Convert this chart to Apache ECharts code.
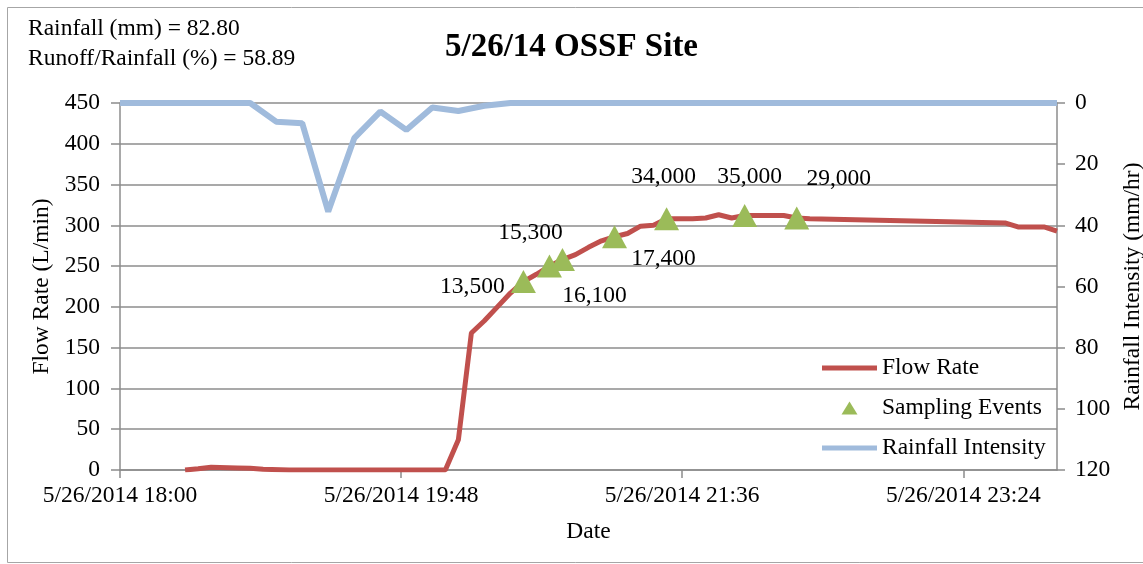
<!DOCTYPE html>
<html>
<head>
<meta charset="utf-8">
<script src="https://cdn.jsdelivr.net/npm/echarts@6/dist/echarts.min.js"></script>
<style>
  html, body { margin: 0; padding: 0; background: #fff; }
  #main { width: 1143px; height: 564px; }
</style>
</head>
<body>
<div id="main"></div>
<script>
// flow rate (L/min)
const flowTimes = ['18:25','18:30','18:35','18:45','18:50','18:55','19:05','20:05','20:10','20:15','20:20','20:25','20:30','20:35','20:40','20:45','20:50','20:55','21:00','21:05','21:10','21:15','21:20','21:25','21:30','21:40','21:45','21:50','21:55','22:00','22:15','22:20','22:25','23:40','23:45','23:55','24:00'];
const flowValues = [0,1.5,3.3,2.5,2,1,0,0,37,168,183,200,217,231,240,250,258,264,273,281,286,290,299,300,308,308,309,313,309,312,312,309,308,303,298,298,293];

// rainfall intensity (mm/hr), right axis, inverted
const rainTimes = ['18:00','18:50','19:00','19:10','19:20','19:30','19:40','19:50','20:00','20:10','20:20','20:30','24:00'];
const rainValues = [0,0,6.1,6.6,35.5,11.5,2.8,8.8,1.5,2.6,0.9,0,0];

// sampling events, sit on the flow line
const sampleTimes = ['20:35','20:45','20:50','21:10','21:30','22:00','22:20'];
const sampleValues = [231,250,258,286,308,312,309];
const sampleLabels = ['13,500','15,300','16,100','17,400','34,000','35,000','29,000'];
// label offsets from marker centre (px)
const labelOffsets = [[-51,5],[-19,-33],[32,36],[49,22],[-3,-42],[5,-39],[42,-39]];

const xTickLabels = ['5/26/2014 18:00','5/26/2014 19:48','5/26/2014 21:36','5/26/2014 23:24'];

const serif = 'Liberation Serif';
const fs = 23.5;
const gridGray = '#8c8c8c';
const red = '#c0504d';
const blue = '#a0bbdc';
const green = '#9bbb59';

// legend icons: thin bar for the lines, small triangle for the samples
const barIcon = 'path://M0,0 L55,0 L55,5 L0,5 Z';
const triIcon = 'path://M8,0 L16,13 L0,13 Z';

// minutes since 18:00
function toMin(t){
    let p = t.split(':');
    return (parseInt(p[0]) - 18) * 60 + parseInt(p[1]);
}

let option = {
    animation: false,
    textStyle: { fontFamily: serif, color: '#000' },
    title: {
        text: '5/26/14 OSSF Site',
        left: 'center',
        top: 26,
        textStyle: { fontFamily: serif, fontSize: 33, fontWeight: 'bold', color: '#000' }
    },
    graphic: [{
        type: 'rect',
        shape: { x: 7.5, y: 7.5, width: 1150, height: 555 },
        style: { fill: 'none', stroke: '#a6a6a6', lineWidth: 1 },
        silent: true
    }, {
        type: 'text',
        left: 28,
        top: 14,
        style: {
            text: 'Rainfall (mm) = 82.80\nRunoff/Rainfall (%) = 58.89',
            font: fs + 'px "' + serif + '"',
            lineHeight: 30,
            fill: '#000'
        }
    }],
    legend: {
        orient: 'vertical',
        left: 822,
        top: 356,
        padding: 0,
        itemWidth: 55,
        itemHeight: 13,
        itemGap: 16,
        symbolKeepAspect: true,
        textStyle: { fontFamily: serif, fontSize: fs, lineHeight: 24, color: '#000' },
        data: [
            { name: 'Flow Rate', icon: barIcon, itemStyle: { color: red } },
            { name: 'Sampling Events', icon: triIcon, itemStyle: { color: green } },
            { name: 'Rainfall Intensity', icon: barIcon, itemStyle: { color: blue } }
        ]
    },
    grid: { left: 120, right: 86, top: 103, bottom: 94, outerBoundsMode: 'none' },
    xAxis: {
        type: 'value',
        min: 0,
        max: 360,
        interval: 108,
        name: 'Date',
        nameLocation: 'middle',
        nameGap: 50,
        nameTextStyle: { fontFamily: serif, fontSize: fs, color: '#000' },
        axisLine: { lineStyle: { color: gridGray, width: 1.5 } },
        axisTick: { show: true, length: 8, lineStyle: { color: gridGray, width: 1.5 } },
        axisLabel: {
            showMaxLabel: false,
            margin: 14,
            fontFamily: serif, fontSize: fs, color: '#000',
            formatter: function (v) {
                let i = Math.round(v / 108);
                return xTickLabels[i] || '';
            }
        },
        splitLine: { show: false }
    },
    yAxis: [{
        type: 'value',
        min: 0,
        max: 450,
        interval: 50,
        name: 'Flow Rate (L/min)',
        nameLocation: 'middle',
        nameRotate: 90,
        nameGap: 62,
        nameTextStyle: { fontFamily: serif, fontSize: fs, color: '#000' },
        axisLine: { show: true, lineStyle: { color: gridGray, width: 1.5 } },
        axisTick: { show: true, length: 9, lineStyle: { color: gridGray, width: 1.5 } },
        axisLabel: { margin: 20, fontFamily: serif, fontSize: fs, color: '#000' },
        splitLine: { lineStyle: { color: gridGray, width: 1.5 } }
    }, {
        type: 'value',
        min: 0,
        max: 120,
        interval: 20,
        inverse: true,
        position: 'right',
        name: 'Rainfall Intensity (mm/hr)',
        nameLocation: 'middle',
        nameRotate: 90,
        nameGap: 62,
        nameTextStyle: { fontFamily: serif, fontSize: fs, color: '#000' },
        axisLine: { show: true, lineStyle: { color: gridGray, width: 1.5 } },
        axisTick: { show: true, length: 8, lineStyle: { color: gridGray, width: 1.5 } },
        axisLabel: { margin: 18, fontFamily: serif, fontSize: fs, color: '#000' },
        splitLine: { show: false }
    }],
    series: [{
        name: 'Rainfall Intensity',
        type: 'line',
        yAxisIndex: 1,
        symbol: 'none',
        z: 2,
        lineStyle: { color: blue, width: 6 },
        itemStyle: { color: blue },
        data: rainTimes.map((t, i) => [toMin(t), rainValues[i]])
    }, {
        name: 'Flow Rate',
        type: 'line',
        symbol: 'none',
        z: 3,
        lineStyle: { color: red, width: 5 },
        itemStyle: { color: red },
        data: flowTimes.map((t, i) => [toMin(t), flowValues[i]])
    }, {
        name: 'Sampling Events',
        type: 'scatter',
        symbol: 'triangle',
        symbolSize: [25, 23],
        z: 4,
        itemStyle: { color: green, opacity: 1 },
        label: {
            show: true,
            position: 'inside',
            fontFamily: serif,
            fontSize: fs,
            color: '#000'
        },
        data: sampleTimes.map((t, i) => ({
            value: [toMin(t), sampleValues[i]],
            label: { formatter: sampleLabels[i], offset: labelOffsets[i] }
        }))
    }]
};

let myChart = echarts.init(document.getElementById('main'));
myChart.setOption(option);
</script>
</body>
</html>
